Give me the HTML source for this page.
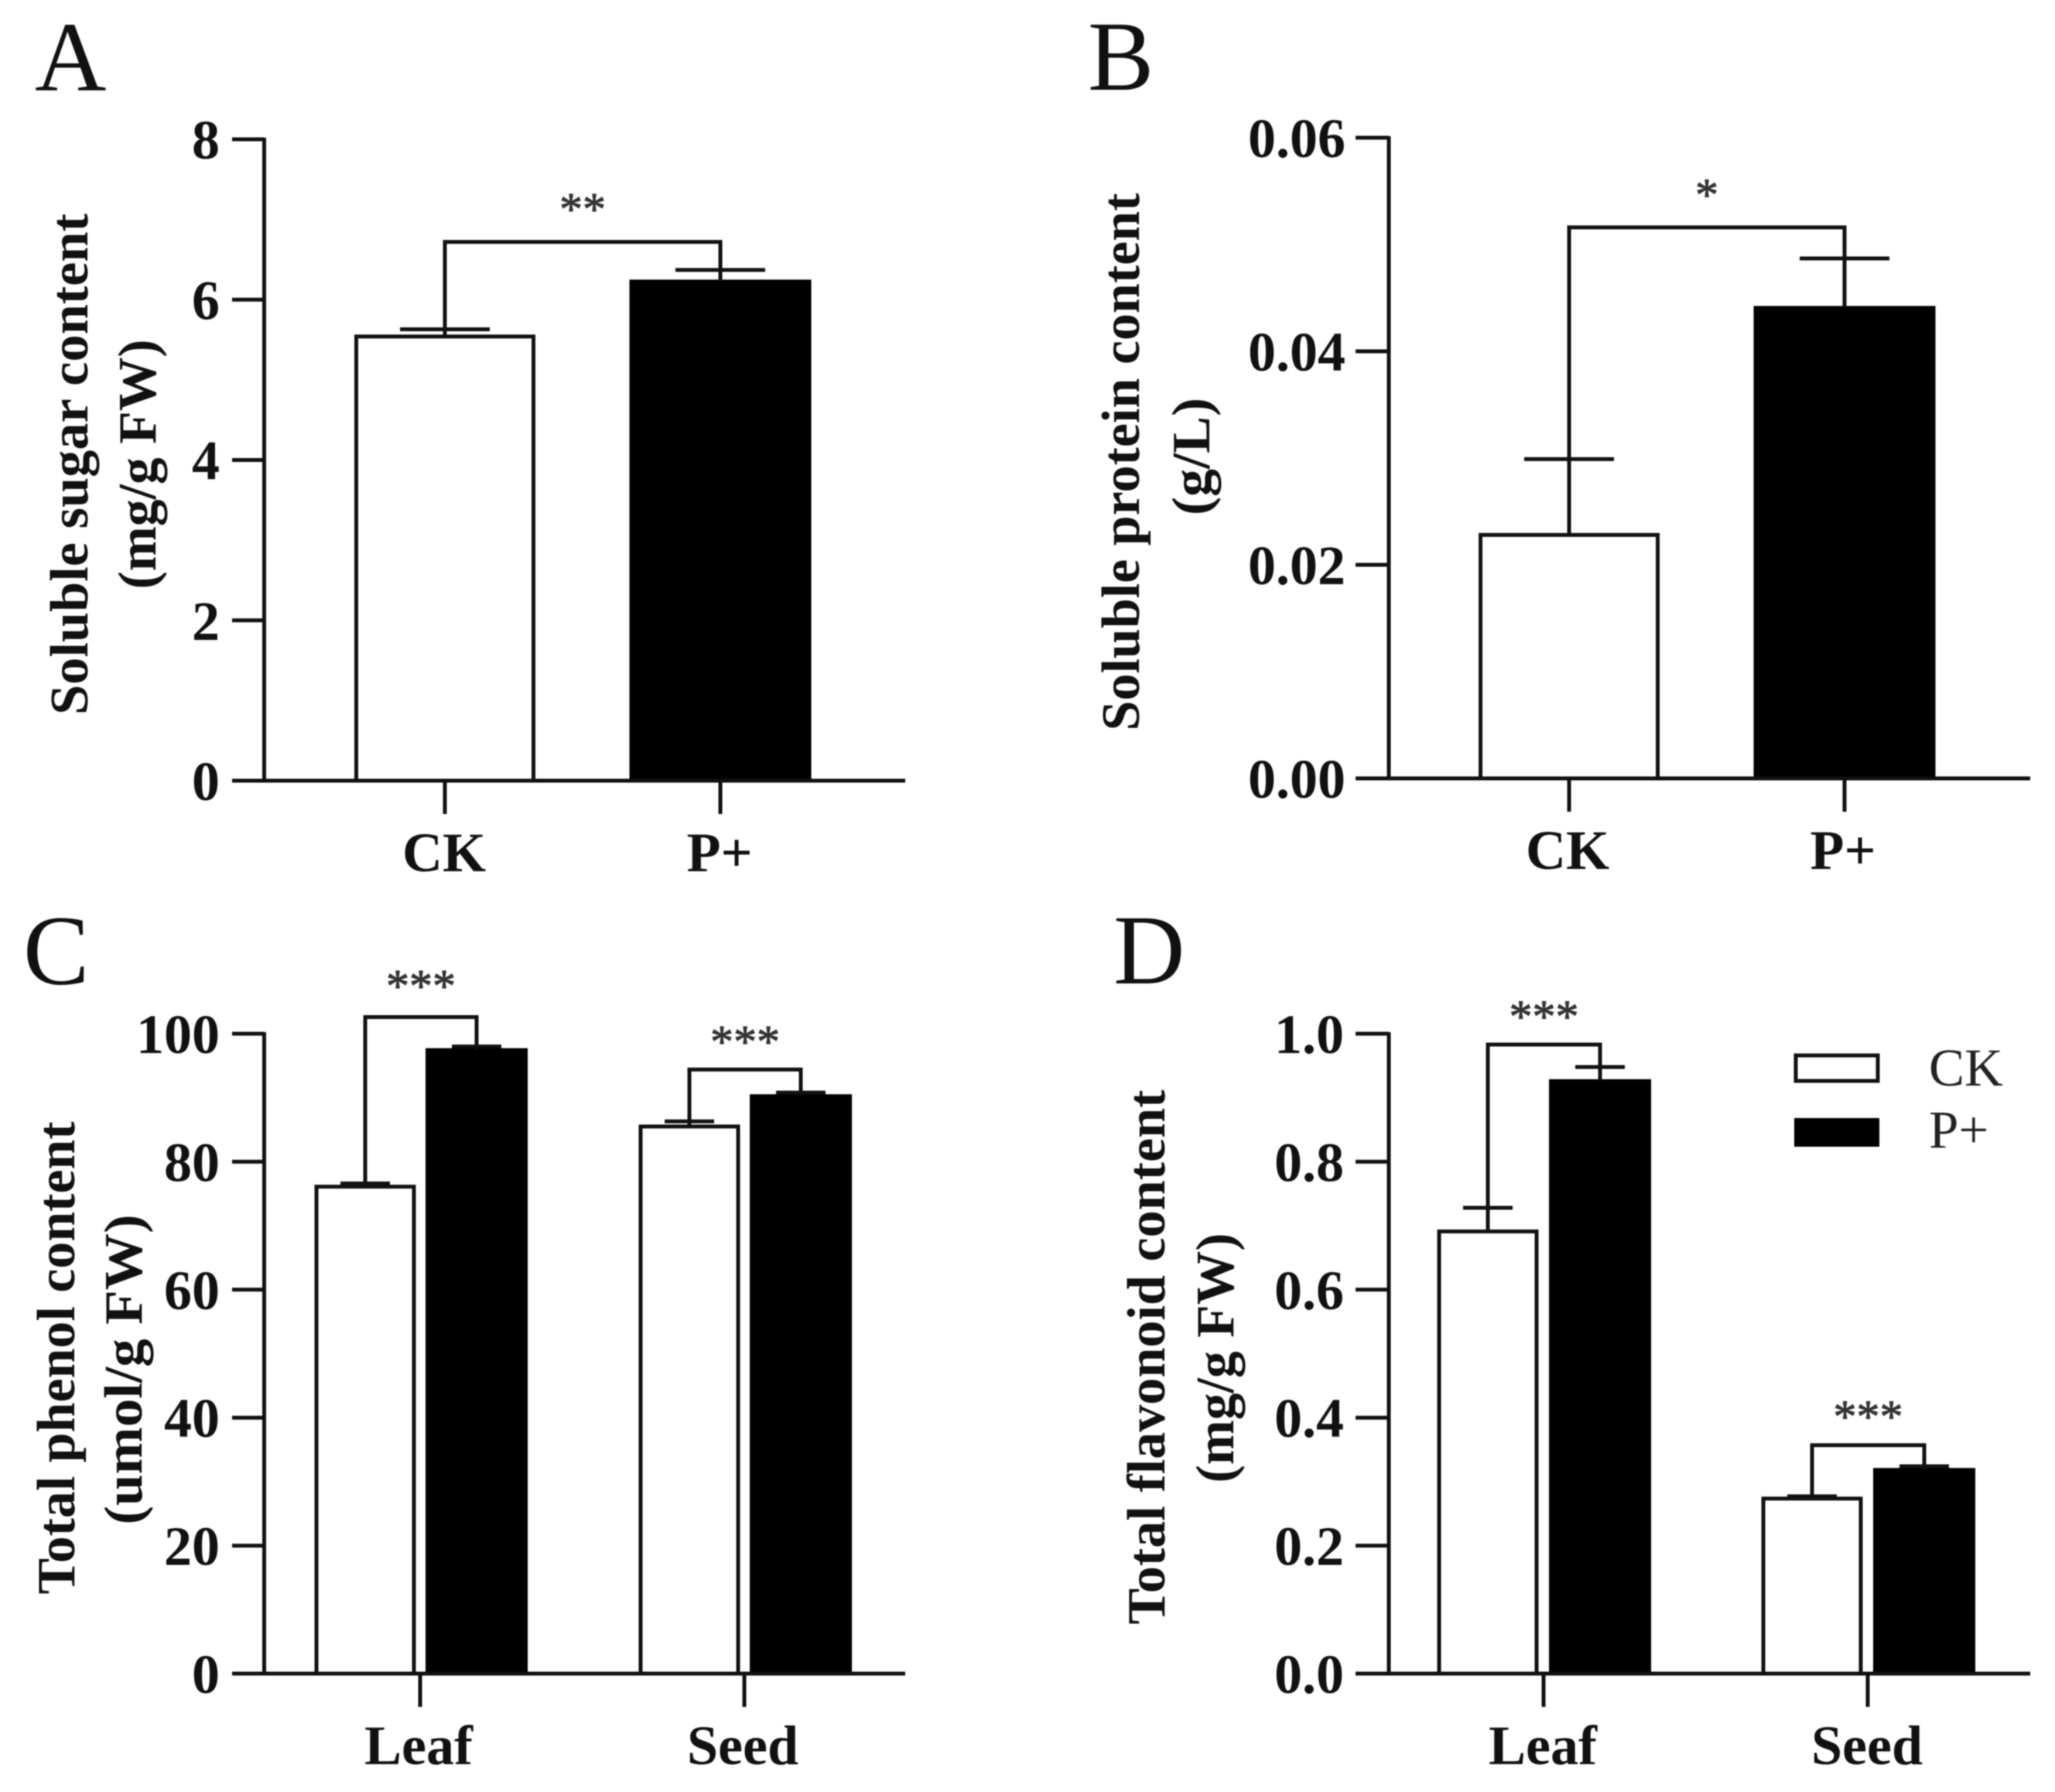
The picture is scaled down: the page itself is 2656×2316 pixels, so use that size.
<!DOCTYPE html>
<html lang="en">
<head>
<meta charset="utf-8">
<title>Soluble sugar, protein, phenol and flavonoid content</title>
<style>
html,body{margin:0;padding:0;background:#fff}
svg{display:block;filter:blur(0.8px)}
text{font-family:"Liberation Serif",serif}
</style>
</head>
<body>
<svg id="figure" xmlns="http://www.w3.org/2000/svg" width="2656" height="2316" viewBox="0 0 2656 2316">
<rect x="0" y="0" width="2656" height="2316" fill="#fff"/>
<g>
<rect x="2321" y="1364" width="106" height="33" fill="#fff" stroke="#111" stroke-width="5"/>
<rect x="2319" y="1445" width="110" height="37" fill="#000"/>
<text x="2493" y="1403" font-size="69" fill="#222">CK</text>
<text x="2493" y="1483" font-size="69" fill="#222">P+</text>
</g>
</svg>
<script>
// Panel A values
const sugarCategories = ['CK', 'P+'];
const sugarTicks = [0, 2, 4, 6, 8];
const sugarTickLabels = ['0', '2', '4', '6', '8'];
const sugarCK = [5.54];
const sugarCKErr = [5.63];
const sugarP = [6.23];
const sugarPErr = [6.37];
const sugarBrackets = [6.72];
const sugarStars = ['**'];

// Panel B values
const proteinCategories = ['CK', 'P+'];
const proteinTicks = [0, 0.02, 0.04, 0.06];
const proteinTickLabels = ['0.00', '0.02', '0.04', '0.06'];
const proteinCK = [0.0228];
const proteinCKErr = [0.0299];
const proteinP = [0.0441];
const proteinPErr = [0.0487];
const proteinBrackets = [0.0516];
const proteinStars = ['*'];

// Panel C values
const phenolCategories = ['Leaf', 'Seed'];
const phenolTicks = [0, 20, 40, 60, 80, 100];
const phenolTickLabels = ['0', '20', '40', '60', '80', '100'];
const phenolCK = [76.1, 85.5];
const phenolCKErr = [76.6, 86.3];
const phenolP = [97.5, 90.3];
const phenolPErr = [98.0, 90.8];
const phenolBrackets = [102.6, 94.4];
const phenolStars = ['***', '***'];

// Panel D values
const flavonoidCategories = ['Leaf', 'Seed'];
const flavonoidTicks = [0, 0.2, 0.4, 0.6, 0.8, 1];
const flavonoidTickLabels = ['0.0', '0.2', '0.4', '0.6', '0.8', '1.0'];
const flavonoidCK = [0.691, 0.2735];
const flavonoidCKErr = [0.728, 0.277];
const flavonoidP = [0.9265, 0.319];
const flavonoidPErr = [0.948, 0.324];
const flavonoidBrackets = [0.983, 0.357];
const flavonoidStars = ['***', '***'];

const NS = 'http://www.w3.org/2000/svg';
const INK = '#111';
const STROKE = 5;
const svg = document.getElementById('figure');

function make(parent, tag, name, attrs, content) {
  const el = document.createElementNS(NS, tag);
  
  
  for (const k in attrs) el.setAttribute(k, attrs[k]);
  if (content !== undefined) el.textContent = content;
  parent.appendChild(el);
  return el;
}

function seg(parent, name, x1, y1, x2, y2) {
  return make(parent, 'line', name, {x1, y1, x2, y2, stroke: INK, 'stroke-width': STROKE});
}

function drawPanel(p) {
  const g = make(svg, 'g', 'panel-' + p.id, {});
  const y = v => p.zero - (v / p.max) * (p.zero - p.top);
  const catX = i => p.first + i * p.step;

  make(g, 'text', 'panel-letter-' + p.id, {x: p.letterX, y: p.letterY, 'font-size': 128, fill: '#111'}, p.id.toUpperCase());

  p.titles.forEach((t, i) => {
    make(g, 'text', 'y-axis-title-' + (i + 1), {
      transform: 'translate(' + t.x + ',' + t.y + ') rotate(-90)',
      'text-anchor': 'middle',
      'font-size': 70,
      'font-weight': 'bold',
      fill: '#111',
      textLength: t.len,
      lengthAdjust: 'spacingAndGlyphs'
    }, t.text);
  });

  // bars: panels A/B have one bar per category; C/D have a pair per category
  p.ck.forEach((_, i) => {
    const tag = p.single ? 'ck-vs-p-plus' : p.categories[i].toLowerCase();
    const ckC = p.single ? catX(0) : catX(i) - p.off1;
    const pC = p.single ? catX(1) : catX(i) + p.off2;
    make(g, 'rect', 'bar-ck-' + tag, {
      x: ckC - p.barW / 2, y: y(p.ck[i]), width: p.barW, height: p.zero - y(p.ck[i]),
      fill: '#fff', stroke: INK, 'stroke-width': STROKE
    });
    make(g, 'rect', 'bar-p-plus-' + tag, {
      x: pC - p.barW / 2 - 3, y: y(p.pos[i]) - 2, width: p.barW + 6, height: p.zero - y(p.pos[i]) + 2,
      fill: '#000'
    });
    seg(g, 'error-stem-ck-' + tag, ckC, y(p.ck[i]), ckC, y(p.ckErr[i]));
    seg(g, 'error-cap-ck-' + tag, ckC - p.cap, y(p.ckErr[i]), ckC + p.cap, y(p.ckErr[i]));
    seg(g, 'error-stem-p-plus-' + tag, pC, y(p.pos[i]), pC, y(p.posErr[i]));
    seg(g, 'error-cap-p-plus-' + tag, pC - p.cap, y(p.posErr[i]), pC + p.cap, y(p.posErr[i]));
    make(g, 'polyline', 'significance-bracket-' + tag, {
      points: ckC + ',' + y(p.ckErr[i]) + ' ' + ckC + ',' + y(p.brackets[i]) + ' ' + pC + ',' + y(p.brackets[i]) + ' ' + pC + ',' + y(p.posErr[i]),
      fill: 'none', stroke: INK, 'stroke-width': STROKE
    });
    make(g, 'text', 'significance-stars-' + tag, {
      x: (ckC + pC) / 2, y: y(p.brackets[i]) - p.starGaps[i], 'text-anchor': 'middle', 'font-size': 60,
      fill: '#333', stroke: '#333', 'stroke-width': 1
    }, p.stars[i]);
  });

  // x ticks and labels
  p.categories.forEach((c, i) => {
    const cx = catX(i);
    seg(g, 'x-tick-' + c.toLowerCase(), cx, p.zero, cx, p.zero + 43);
    make(g, 'text', 'x-tick-label-' + c.toLowerCase(), {
      x: cx + p.labelShift, y: p.zero + 117, 'text-anchor': 'middle', 'font-size': 72, 'font-weight': 'bold', fill: '#111'
    }, c);
  });

  // axes
  seg(g, 'y-axis-line', p.axisX, p.top - 2, p.axisX, p.zero + 2);
  seg(g, 'x-axis-line', p.tickX, p.zero, p.endX, p.zero);
  p.ticks.forEach((t, i) => {
    if (t !== 0) seg(g, 'y-tick-' + p.tickLabels[i], p.tickX, y(t), p.axisX, y(t));
    make(g, 'text', 'y-tick-label-' + p.tickLabels[i], {
      x: p.labelX, y: y(t) + 25, 'text-anchor': 'end', 'font-size': 72, 'font-weight': 'bold', fill: '#111'
    }, p.tickLabels[i]);
  });
}

drawPanel({
  id: 'a', single: true, categories: sugarCategories, ticks: sugarTicks, tickLabels: sugarTickLabels,
  ck: sugarCK, ckErr: sugarCKErr, pos: sugarP, posErr: sugarPErr, brackets: sugarBrackets, stars: sugarStars,
  max: 8, top: 180, zero: 1009, axisX: 341.5, tickX: 300, endX: 1170, labelX: 284,
  first: 575, step: 356, off1: 0, off2: 0, barW: 229, cap: 58, starGaps: [22],
  letterX: 45, letterY: 117, labelShift: -1,
  titles: [
    {text: 'Soluble sugar content', x: 113, y: 600, len: 648},
    {text: '(mg/g FW)', x: 201, y: 600, len: 323}
  ]
});

drawPanel({
  id: 'b', single: true, categories: proteinCategories, ticks: proteinTicks, tickLabels: proteinTickLabels,
  ck: proteinCK, ckErr: proteinCKErr, pos: proteinP, posErr: proteinPErr, brackets: proteinBrackets, stars: proteinStars,
  max: 0.06, top: 178, zero: 1006, axisX: 1795, tickX: 1752, endX: 2624, labelX: 1739,
  first: 2028, step: 356, off1: 0, off2: 0, barW: 229, cap: 58, starGaps: [22],
  letterX: 1406, letterY: 116, labelShift: -2,
  titles: [
    {text: 'Soluble protein content', x: 1472, y: 597, len: 695},
    {text: '(g/L)', x: 1563, y: 590, len: 152}
  ]
});

drawPanel({
  id: 'c', single: false, categories: phenolCategories, ticks: phenolTicks, tickLabels: phenolTickLabels,
  ck: phenolCK, ckErr: phenolCKErr, pos: phenolP, posErr: phenolPErr, brackets: phenolBrackets, stars: phenolStars,
  max: 100, top: 1336, zero: 2163, axisX: 341.5, tickX: 300, endX: 1170, labelX: 284,
  first: 543, step: 419, off1: 71, off2: 73, barW: 126, cap: 32, starGaps: [20, 16],
  letterX: 30, letterY: 1272, labelShift: -2,
  titles: [
    {text: 'Total phenol content', x: 96, y: 1755, len: 611},
    {text: '(umol/g FW)', x: 183, y: 1770, len: 401}
  ]
});

drawPanel({
  id: 'd', single: false, categories: flavonoidCategories, ticks: flavonoidTicks, tickLabels: flavonoidTickLabels,
  ck: flavonoidCK, ckErr: flavonoidCKErr, pos: flavonoidP, posErr: flavonoidPErr, brackets: flavonoidBrackets, stars: flavonoidStars,
  max: 1, top: 1336, zero: 2163, axisX: 1795, tickX: 1752, endX: 2624, labelX: 1737,
  first: 1995, step: 419, off1: 72, off2: 73, barW: 126, cap: 32, starGaps: [16, 17],
  letterX: 1439, letterY: 1271, labelShift: -1,
  titles: [
    {text: 'Total flavonoid content', x: 1505, y: 1754, len: 691},
    {text: '(mg/g FW)', x: 1594, y: 1755, len: 323}
  ]
});
</script>
</body>
</html>
